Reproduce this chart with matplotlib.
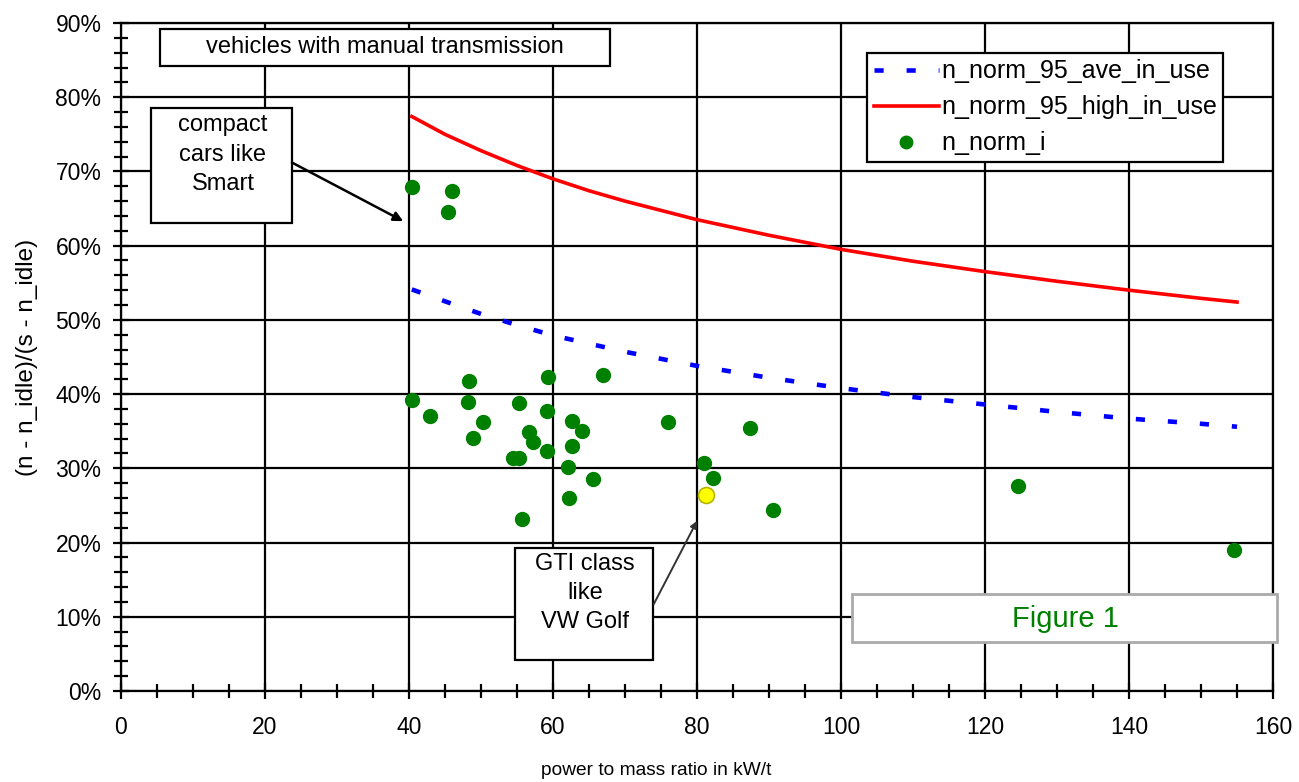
import matplotlib.pyplot as plt
from matplotlib.patches import Rectangle
from matplotlib.ticker import MultipleLocator, FuncFormatter

plt.rcParams['font.family'] = ['Liberation Sans', 'DejaVu Sans']

# single vehicles: power to mass ratio (kW/t) and normalised speed (%)
pmr = [40.4, 46.0, 45.4, 40.4, 42.9, 48.3, 48.2, 48.9, 50.3, 55.3, 54.4, 55.3,
       56.7, 57.2, 59.2, 59.3, 59.2, 62.6, 64.0, 62.6, 62.1, 65.6, 62.2, 55.7,
       66.9, 76.0, 81.0, 82.2, 87.4, 90.6, 124.6, 154.6]
n_norm_i = [67.9, 67.3, 64.6, 39.2, 37.1, 41.7, 38.9, 34.1, 36.3, 38.8, 31.4, 31.4,
            34.9, 33.6, 32.3, 42.3, 37.7, 36.4, 35.0, 33.0, 30.2, 28.6, 26.0, 23.2,
            42.6, 36.3, 30.7, 28.7, 35.4, 24.4, 27.6, 19.0]

# the VW Golf (GTI class) point
gti_pmr = [81.25]
gti_n = [26.4]

# in-use curves
curve_pmr = [40.4, 45, 50, 55, 60, 65, 70, 80, 90, 100, 110, 120, 130, 140, 150, 155]
n_high = [77.4, 75.0, 72.8, 70.8, 69.0, 67.4, 66.0, 63.5, 61.4, 59.5, 57.9, 56.5,
          55.2, 54.0, 52.9, 52.4]
n_ave = [54.1, 52.5, 50.8, 49.3, 47.9, 46.8, 45.7, 43.8, 42.2, 40.8, 39.6, 38.6,
         37.6, 36.7, 36.0, 35.6]

fig = plt.figure(figsize=(12.99, 7.82), dpi=100)
ax = fig.add_axes([0.0931, 0.1164, 0.8869, 0.8542])

ax.plot(curve_pmr, n_ave, color='blue', lw=3.3, linestyle=(0, (2, 5)),
        dash_capstyle='butt', label='n_norm_95_ave_in_use', zorder=3)
ax.plot(curve_pmr, n_high, color='red', lw=2.6, label='n_norm_95_high_in_use', zorder=3)
ax.plot(pmr, n_norm_i, 'o', color='#008000', ms=10, mec='#008000',
        label='n_norm_i', zorder=4)
ax.plot(gti_pmr, gti_n, 'o', color='yellow', ms=11.5, mec='#b5b500', mew=1.2, zorder=5)

ax.set_xlim(0, 160)
ax.set_ylim(0, 90)
ax.xaxis.set_major_locator(MultipleLocator(20))
ax.xaxis.set_minor_locator(MultipleLocator(5))
ax.yaxis.set_major_locator(MultipleLocator(10))
ax.yaxis.set_minor_locator(MultipleLocator(2))
ax.yaxis.set_major_formatter(FuncFormatter(lambda v, p: f'{v:.0f}%'))
ax.grid(True, which='major', color='black', lw=1.6)
ax.set_axisbelow(True)
for s in ax.spines.values():
    s.set_linewidth(1.6)
ax.tick_params(which='major', direction='inout', length=12, width=1.6, labelsize=16.5)
ax.tick_params(which='minor', direction='inout', length=10, width=1.6)
ax.tick_params(axis='x', which='major', pad=12)
ax.tick_params(axis='y', which='major', pad=8)

ax.set_xlabel('power to mass ratio in kW/t', fontsize=13.8)
ax.xaxis.set_label_coords(0.465, -0.106)
ax.set_ylabel('(n - n_idle)/(s - n_idle)', fontsize=17.5)
ax.yaxis.set_label_coords(-0.072, 0.5)

leg = ax.legend(loc='upper left', bbox_to_anchor=(0.648, 0.955), fontsize=18,
                frameon=True, fancybox=False, framealpha=1, edgecolor='black',
                handlelength=2.6, handletextpad=0.1, labelspacing=0.48,
                borderpad=0.25, borderaxespad=0, markerscale=0.9)
leg.get_frame().set_linewidth(1.6)
leg.set_zorder(6)

# text boxes
ax.add_patch(Rectangle((0.0339, 0.9356), 0.3906, 0.0554, transform=ax.transAxes,
                       fc='white', ec='black', lw=1.6, zorder=5))
ax.text(0.229, 0.964, 'vehicles with manual transmission', transform=ax.transAxes,
        ha='center', va='center', fontsize=17, zorder=6)

ax.add_patch(Rectangle((0.026, 0.7006), 0.1224, 0.1722, transform=ax.transAxes,
                       fc='white', ec='black', lw=1.6, zorder=5))
ax.text(0.0885, 0.8635, 'compact\ncars like\nSmart', transform=ax.transAxes,
        ha='center', va='top', fontsize=17, linespacing=1.45, zorder=6)
ax.annotate('', xy=(39.2, 63.3), xytext=(23.75, 71.2),
            arrowprops=dict(arrowstyle='-|>', color='black', lw=1.8,
                            mutation_scale=14, shrinkA=0, shrinkB=0), zorder=6)

ax.add_patch(Rectangle((0.342, 0.0464), 0.1198, 0.1677, transform=ax.transAxes,
                       fc='white', ec='black', lw=1.6, zorder=5))
ax.text(0.4028, 0.206, 'GTI class\nlike\nVW Golf', transform=ax.transAxes,
        ha='center', va='top', fontsize=17, linespacing=1.4, zorder=6)
ax.annotate('', xy=(80.0, 22.9), xytext=(74.0, 11.7),
            arrowprops=dict(arrowstyle='-|>', color='#333333', lw=1.4,
                            mutation_scale=10, shrinkA=0, shrinkB=0), zorder=6)

ax.add_patch(Rectangle((0.6345, 0.0734), 0.369, 0.0719, transform=ax.transAxes,
                       fc='white', ec='#aaaaaa', lw=2, zorder=5, clip_on=False))
ax.text(0.8194, 0.1078, 'Figure 1', transform=ax.transAxes, ha='center', va='center',
        fontsize=21, color='#008000', zorder=6)

fig.savefig('out.png', dpi=100)
